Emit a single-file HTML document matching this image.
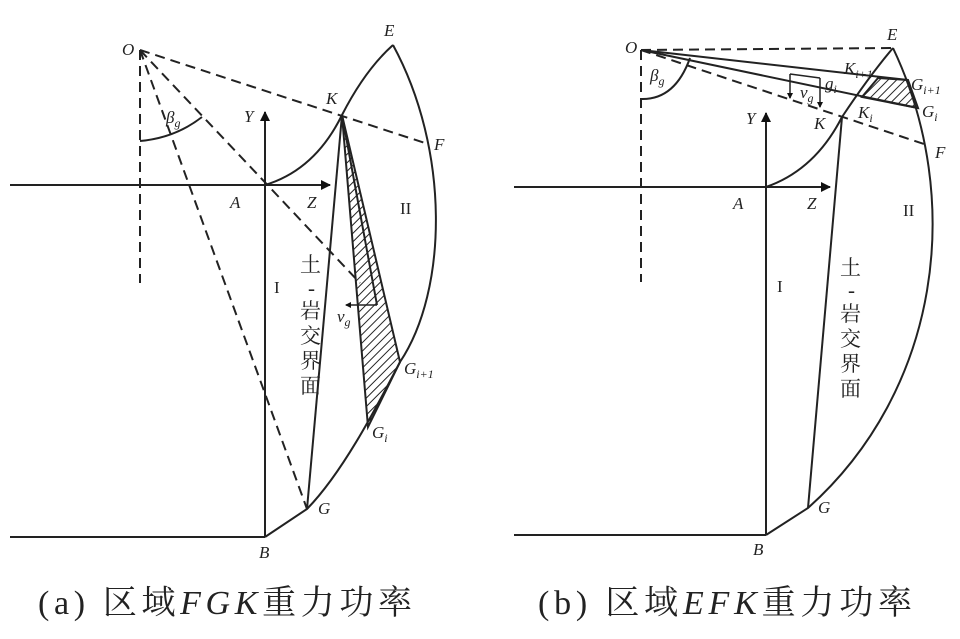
<!DOCTYPE html>
<html><head><meta charset="utf-8"><style>
body{margin:0;background:#fff}
svg{display:block}
text{font-family:"Liberation Serif","Noto Serif CJK SC",serif;fill:#222}
.it{font-style:italic}
.cn{font-family:"Liberation Serif","Noto Serif CJK SC",serif;font-size:21px}
</style></head><body>
<svg width="960" height="639" viewBox="0 0 960 639" xmlns="http://www.w3.org/2000/svg">
<defs>
<pattern id="h" patternUnits="userSpaceOnUse" width="6" height="6" patternTransform="rotate(45)">
<line x1="0" y1="0" x2="0" y2="6" stroke="#222" stroke-width="2"/></pattern>
<marker id="ar" markerWidth="10" markerHeight="10" refX="9" refY="5" orient="auto" markerUnits="userSpaceOnUse"><path d="M0,0 L10,5 L0,10 z" fill="#111"/></marker>
<marker id="as" markerWidth="6" markerHeight="6" refX="5" refY="3" orient="auto" markerUnits="userSpaceOnUse"><path d="M0,0 L6,3 L0,6 z" fill="#111"/></marker>
</defs>
<g fill="none" stroke="#222" stroke-width="2">
<!-- LEFT -->
<line x1="10" y1="185" x2="330" y2="185" marker-end="url(#ar)"/>
<line x1="265" y1="537" x2="265" y2="112" marker-end="url(#ar)"/>
<line x1="10" y1="537" x2="265" y2="537"/>
<path d="M265,185 Q315,170 342,115 Q365,70 393,45"/>
<path d="M393,45 C450,150 448,290 400,362 C380,400 345,470 307,509 L265,537"/>
<line x1="342" y1="115" x2="307" y2="509"/>
<polygon points="342,115 400,362 368,427" fill="url(#h)"/>
<line x1="342" y1="115" x2="377" y2="305"/>
<path d="M140,141 Q175,138 202,117"/>
<line x1="377" y1="305" x2="346" y2="305" stroke-width="1.5" marker-end="url(#as)"/>
<g stroke-dasharray="10,6">
<line x1="140" y1="50" x2="140" y2="283"/>
<line x1="140" y1="50" x2="428" y2="144"/>
<line x1="140" y1="50" x2="307" y2="509"/>
<line x1="140" y1="50" x2="360" y2="283"/>
</g>
<!-- RIGHT -->
<line x1="514" y1="187" x2="830" y2="187" marker-end="url(#ar)"/>
<line x1="766" y1="535" x2="766" y2="113" marker-end="url(#ar)"/>
<line x1="514" y1="535" x2="766" y2="535"/>
<path d="M766,187 Q815,170 842,117 Q870,75 893,48"/>
<path d="M893,48 C965,200 940,390 808,508 L766,535"/>
<line x1="842" y1="117" x2="808" y2="508"/>
<polygon points="878,78 908,80 918,108 862,97" fill="url(#h)"/>
<line x1="641" y1="50" x2="908" y2="80"/>
<line x1="641" y1="50" x2="918" y2="108"/>
<path d="M641,99 Q675,100 690,58"/>
<line x1="790" y1="74" x2="820" y2="78" stroke-width="1.5"/>
<line x1="790" y1="74" x2="790" y2="98" stroke-width="1.5" marker-end="url(#as)"/>
<line x1="820" y1="78" x2="820" y2="107" stroke-width="1.5" marker-end="url(#as)"/>
<g stroke-dasharray="10,6">
<line x1="641" y1="50" x2="641" y2="282"/>
<line x1="641" y1="50" x2="893" y2="48"/>
<line x1="641" y1="50" x2="927" y2="145"/>
</g>
</g>
<g font-size="17">
<text x="122" y="55" class="it">O</text>
<text x="384" y="36" class="it">E</text>
<text x="326" y="104" class="it">K</text>
<text x="244" y="122" class="it">Y</text>
<text x="434" y="150" class="it">F</text>
<text x="230" y="208" class="it">A</text>
<text x="307" y="208" class="it">Z</text>
<text x="400" y="214">II</text>
<text x="274" y="293">I</text>
<text x="166" y="123" class="it">β<tspan font-size="12" dy="4">g</tspan></text>
<text x="337" y="322" class="it">v<tspan font-size="12" dy="4">g</tspan></text>
<text x="404" y="374" class="it">G<tspan font-size="12" dy="4">i+1</tspan></text>
<text x="372" y="438" class="it">G<tspan font-size="12" dy="4">i</tspan></text>
<text x="318" y="514" class="it">G</text>
<text x="259" y="558" class="it">B</text>
<text x="300" y="272" class="cn">土</text>
<text x="308" y="295" class="cn" font-size="14">-</text>
<text x="300" y="318" class="cn">岩</text>
<text x="300" y="343" class="cn">交</text>
<text x="300" y="368" class="cn">界</text>
<text x="300" y="393" class="cn">面</text>

<text x="625" y="53" class="it">O</text>
<text x="887" y="40" class="it">E</text>
<text x="844" y="74" class="it">K<tspan font-size="12" dy="4">i+1</tspan></text>
<text x="825" y="89" class="it">g<tspan font-size="12" dy="4">i</tspan></text>
<text x="800" y="98" class="it">v<tspan font-size="12" dy="4">g</tspan></text>
<text x="911" y="90" class="it">G<tspan font-size="12" dy="4">i+1</tspan></text>
<text x="922" y="117" class="it">G<tspan font-size="12" dy="4">i</tspan></text>
<text x="858" y="118" class="it">K<tspan font-size="12" dy="4">i</tspan></text>
<text x="814" y="129" class="it">K</text>
<text x="746" y="124" class="it">Y</text>
<text x="935" y="158" class="it">F</text>
<text x="733" y="209" class="it">A</text>
<text x="807" y="209" class="it">Z</text>
<text x="903" y="216">II</text>
<text x="777" y="292">I</text>
<text x="650" y="81" class="it">β<tspan font-size="12" dy="4">g</tspan></text>
<text x="818" y="513" class="it">G</text>
<text x="753" y="555" class="it">B</text>
<text x="840" y="275" class="cn">土</text>
<text x="848" y="297" class="cn" font-size="14">-</text>
<text x="840" y="321" class="cn">岩</text>
<text x="840" y="346" class="cn">交</text>
<text x="840" y="371" class="cn">界</text>
<text x="840" y="396" class="cn">面</text>
</g>
<g font-size="34" letter-spacing="3">
<text x="38" y="614" textLength="377" lengthAdjust="spacing">(a) 区域<tspan class="it">FGK</tspan>重力功率</text>
<text x="538" y="614" textLength="377" lengthAdjust="spacing">(b) 区域<tspan class="it">EFK</tspan>重力功率</text>
</g>
</svg>
</body></html>
